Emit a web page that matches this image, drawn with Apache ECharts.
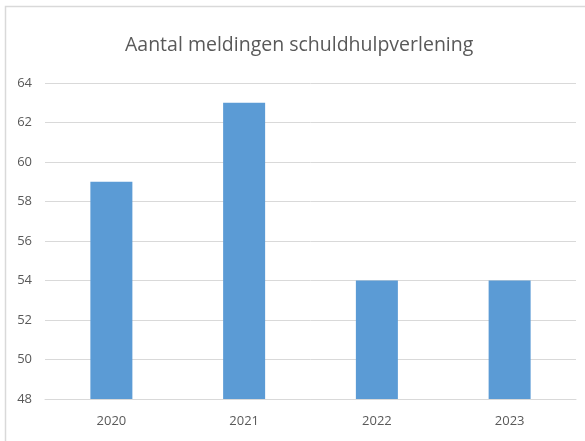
<!DOCTYPE html>
<html>
<head>
<meta charset="utf-8">
<script src="https://cdn.jsdelivr.net/npm/echarts@6/dist/echarts.min.js"></script>
<style>
  html, body { margin: 0; padding: 0; background: #fff; }
  #chart { width: 585px; height: 441px; }
</style>
</head>
<body>
<div id="chart"></div>
<script>
// Aantal meldingen schuldhulpverlening per jaar
const years = ['2020', '2021', '2022', '2023'];
const meldingen = [59, 63, 54, 54];
const yTicks = [48, 50, 52, 54, 56, 58, 60, 62, 64];

const textColor = '#595959';
const fontFamily = '"Open Sans", "Noto Sans", sans-serif';

const chart = echarts.init(document.getElementById('chart'), null, { renderer: 'canvas' });
chart.setOption({
  animation: false,
  backgroundColor: '#ffffff',
  graphic: [{
    type: 'rect',
    shape: { x: 5.5, y: 6.5, width: 600, height: 460 },
    style: { fill: 'none', stroke: '#d9d9d9', lineWidth: 1.5 },
    silent: true
  }],
  title: {
    text: 'Aantal meldingen schuldhulpverlening',
    left: 120,
    top: 30,
    textStyle: { color: textColor, fontFamily: fontFamily, fontSize: 19.5, fontWeight: 'normal' }
  },
  grid: { left: 45, right: 9, top: 83, bottom: 42 },
  xAxis: {
    type: 'category',
    data: years,
    axisLine: { show: true, lineStyle: { color: '#d9d9d9', width: 1 } },
    axisTick: { show: false },
    axisLabel: { color: textColor, fontFamily: fontFamily, fontSize: 13, margin: 16 }
  },
  yAxis: {
    type: 'value',
    min: yTicks[0],
    max: yTicks[yTicks.length - 1],
    interval: yTicks[1] - yTicks[0],
    axisLine: { show: false },
    axisTick: { show: false },
    splitLine: { lineStyle: { color: '#d9d9d9', width: 1 } },
    axisLabel: { color: textColor, fontFamily: fontFamily, fontSize: 13, margin: 13 }
  },
  series: [{
    type: 'bar',
    data: meldingen,
    barWidth: 42,
    itemStyle: { color: '#5b9bd5' }
  }]
});
</script>
</body>
</html>
